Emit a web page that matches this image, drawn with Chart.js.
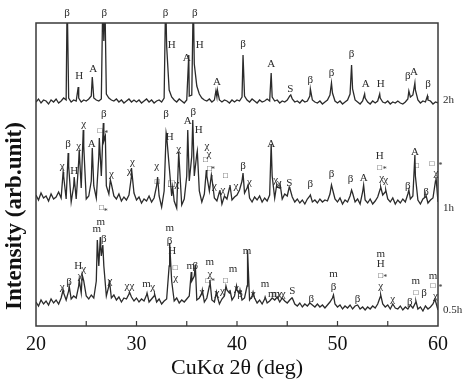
<!DOCTYPE html>
<html>
<head>
<meta charset="utf-8">
<script src="https://cdn.jsdelivr.net/npm/chart.js@4.4.1/dist/chart.umd.min.js"></script>
<style>
  html, body { margin: 0; padding: 0; background: #fff; }
  #wrap { width: 465px; height: 381px; }
</style>
</head>
<body>
<div id="wrap"><canvas id="xrd"></canvas></div>
<script>
// 2theta grid of the background scan: 20..60 deg, every 0.25 deg
var X_START = 20;
var X_STEP = 0.25;

// background intensity on that grid (arb. units), one row = 2 deg
var base2h = [
  224,227,223,226, 225,222,226,224,
  227,223,225,228, 226,228,224,226,
  225,228,224,226, 225,227,230,228,
  226,225,227,285, 232,228,226,225,
  227,224,226,223, 225,227,224,226,
  224,226,223,225, 227,224,226,223,
  225,226,224,228, 280,236,229,226,
  224,227,225,223, 226,230,231,262,
  240,232,228,226, 225,227,224,226,
  229,226,224,226, 225,223,226,224,
  226,225,229,230, 226,224,227,225,
  223,226,224,225, 227,225,229,225,
  226,223,225,224, 226,230,227,224,
  225,223,226,224, 225,230,226,224,
  223,225,222,224, 226,231,233,225,
  223,225,222,224, 226,232,237,226,
  224,222,225,228, 224,222,225,223,
  225,228,224,223, 225,222,224,223,
  225,223,222,224, 227,229,231,236,
  226,223,225,224, 226,225,222,224,
  223
];
var base1h = [
  131,126,133,128, 130,125,132,127,
  129,134,128,150, 127,160,124,140,
  127,165,138,180, 127,130,145,140,
  128,170,150,185, 140,132,142,130,
  127,132,125,129, 126,131,150,133,
  126,129,123,127, 125,130,124,128,
  140,130,119,135, 190,160,130,125,
  118,165,121,127, 150,145,170,150,
  172,135,124,132, 150,135,148,128,
  125,134,122,130, 127,138,126,129,
  131,136,145,133, 138,128,124,129,
  126,130,124,128, 125,131,150,128,
  139,138,127,132, 130,138,129,124,
  127,123,126,122, 127,130,124,126,
  123,127,124,126, 125,132,137,127,
  124,128,122,126, 124,130,133,124,
  127,122,134,126, 123,127,122,125,
  129,137,131,134, 127,124,128,122,
  126,123,127,124, 132,127,130,150,
  126,122,127,129, 123,126,128,145,
  124
];
var base05h = [
  24,20,26,22, 25,21,27,23,
  26,22,28,33, 26,35,27,30,
  28,40,33,45, 30,27,31,28,
  45,60,70,60, 30,40,28,31,
  26,29,24,28, 27,32,29,25,
  28,24,27,25, 31,24,27,30,
  24,27,22,25, 27,60,45,25,
  28,23,26,24, 27,30,45,50,
  26,28,33,24, 28,40,26,24,
  31,22,27,30, 36,33,26,30,
  36,33,26,28, 40,26,30,28,
  23,26,22,27, 23,25,28,26,
  29,24,28,25, 23,26,28,22,
  20,23,19,22, 20,23,21,19,
  22,19,21,18, 21,24,28,22,
  19,21,17,20, 18,21,17,20,
  21,17,19,16, 19,17,20,18,
  22,29,22,19, 21,17,22,18,
  17,20,16,19, 17,21,18,23,
  17,19,15,20, 17,19,22,25,
  16
];

// reflection maxima [2theta, intensity]
var peaks2h = [
  [23.1,330],[24.2,239],[25.6,249],[26.65,330],[26.85,330],[32.9,330],
  [35.2,271],[35.65,330],[37.9,235],[38.05,236],[40.6,271],[43.4,253],
  [45.35,231],[47.3,237],[49.4,243],[51.4,261],[52.7,232],[54.2,232],
  [57.1,235],[57.7,243],[58.95,230]
];
var peaks1h = [
  [22.7,154],[23.2,173],[23.8,149],[24.3,176],[24.7,196],[25.6,178],
  [26.3,188],[26.7,203],[26.9,190],[27.4,146],[29.5,158],[32.1,149],
  [32.95,193],[33.6,139],[34.2,174],[35.1,196],[35.6,206],[36.05,175],
  [36.95,156],[37.45,151],[38.3,136],[39.3,141],[40.6,153],[41.1,141],
  [43.4,182],[43.95,141],[44.3,141],[45.2,139],[47.3,131],[49.4,141],
  [51.4,136],[52.6,141],[54.3,139],[54.8,136],[57.1,136],[57.7,171],
  [58.8,131],[59.8,149]
];
var peaks05h = [
  [22.7,36],[23.3,40],[24.3,46],[24.6,51],[26.1,86],[26.4,89],[26.65,81],
  [27.3,46],[29.3,34],[31.05,33],[31.8,32],[33.3,83],[35.45,54],[35.85,61],
  [36.55,36],[37.3,46],[37.95,34],[38.9,40],[39.3,36],[39.95,40],[40.3,36],
  [41.05,76],[41.6,34],[42.8,29],[45.45,28],[49.6,31],[54.3,31],[57.8,25],
  [59.7,27]
];

// phase marks [text, 2theta, intensity]
var marks2h = [
  ['β',23.1,313],['β',26.8,313],['β',32.9,313],['β',35.8,313],
  ['H',24.3,250],['A',25.7,257],['H',33.5,281],['A',35.0,268],['H',36.3,281],
  ['A',38.0,244],['β',40.6,282],['A',43.4,262],['S',45.3,237],['β',47.3,246],
  ['β',49.4,253],['β',51.4,272],['A',52.8,242],['H',54.3,242],['β',57.0,250],
  ['A',57.6,254],['β',59.0,242]
];
var marks1h = [
  ['χ',22.6,160],['β',23.2,182],['H',23.8,155],['χ',24.25,180],['χ',24.75,202],
  ['A',25.55,182],['□',26.35,195],['β',26.75,212],['*',27.0,192],['χ',27.5,152],
  ['χ',29.3,155],['χ',29.6,164],['χ',32.0,160],['□',32.05,144],['β',32.95,212],
  ['H',33.3,189],['□χ',33.7,142],['χ',34.2,177],['A',35.1,205],['β',35.65,214],
  ['H',36.2,196],['□',36.85,166],['χ',37.0,180],['χ',37.2,172],['□',37.25,157],
  ['*',37.6,156],['χ',37.75,140],['χ',38.6,136],['□',38.85,150],['χ',39.9,140],
  ['β',40.6,160],['χ',41.25,144],['A',43.4,182],['χ',43.85,146],['χ',44.2,143],
  ['S',45.2,143],['β',47.3,142],['β',49.4,152],['β',51.3,147],['A',52.6,148],
  ['H',54.2,170],['□',54.2,158],['*',54.7,156],['χ',54.4,148],['χ',54.8,146],
  ['β',57.0,140],['A',57.7,174],['□',57.85,160],['β',58.8,134],['□',59.4,162],
  ['χ',59.8,153],['*',60.25,160]
];
var marks05h = [
  ['χ',22.6,39],['β',23.3,44],['H',24.2,60],['χ',24.4,50],['χ',24.75,57],
  ['m',26.05,97],['m',26.45,104],['□',26.5,118],['*',26.95,114],['β',26.75,87],
  ['χ',27.35,45],['χχ',29.3,40],['m',31.0,42],['χ',31.6,39],['m',33.3,98],
  ['β',33.3,85],['H',33.55,75],['□',33.85,58],['χ',33.9,48],['m',35.4,60],
  ['β',35.85,60],['χ',36.5,34],['□',37.1,45],['m',37.3,64],['χ',37.3,52],
  ['*',37.6,44],['χ',38.0,33],['χ',38.55,35],['□',38.85,45],['m',39.6,57],
  ['χ',39.95,38],['β',40.3,32],['m',41.0,75],['χ',41.6,32],['m',42.8,42],
  ['m',43.5,32],['m',43.85,32],['χ',44.25,32],['χ',44.6,32],['S',45.5,35],
  ['β',47.4,27],['m',49.6,52],['β',49.6,39],['β',52.0,27],['m',54.3,72],
  ['H',54.3,62],['□',54.3,50],['*',54.75,48],['χ',54.3,40],['χ',55.5,27],
  ['β',57.2,24],['m',57.8,45],['□',57.8,33],['β',58.6,33],['m',59.5,50],
  ['□',59.5,40],['χ',59.75,30],['*',60.25,38]
];

// milling time labels [text, intensity of baseline]
var timeLabels = [['2h',226],['1h',118],['0.5h',16]];

function buildSeries(base, peaks) {
  var pts = [];
  base.forEach(function(v, i) {
    pts.push({ x: X_START + i * X_STEP, y: v });
  });
  peaks.forEach(function(p) {
    pts.push({ x: p[0], y: p[1] });
  });
  pts.sort(function(a, b) { return a.x - b.x; });
  return pts;
}

var SERIF = '"Liberation Serif", "DejaVu Serif", serif';
var INK = '#2b2b2b';

var xrdDecor = {
  id: 'xrdDecor',
  afterDatasetsDraw: function(chart) {
    var ctx = chart.ctx;
    var a = chart.chartArea;
    var xs = chart.scales.x;
    var ys = chart.scales.y;
    ctx.save();

    // frame
    ctx.strokeStyle = '#3a3a3a';
    ctx.lineWidth = 1.5;
    ctx.strokeRect(a.left, a.top, a.right - a.left, a.bottom - a.top);

    // inward ticks every 5 deg
    ctx.lineWidth = 1.2;
    for (var t = 25; t < 60; t += 5) {
      var px = xs.getPixelForValue(t);
      ctx.beginPath();
      ctx.moveTo(px, a.bottom);
      ctx.lineTo(px, a.bottom - 5);
      ctx.stroke();
    }

    // phase marks
    ctx.fillStyle = INK;
    ctx.textAlign = 'center';
    ctx.textBaseline = 'middle';
    [marks2h, marks1h, marks05h].forEach(function(list) {
      list.forEach(function(m) {
        var small = (m[0] === '□' || m[0] === '*');
        ctx.font = (small ? '8px ' : '11px ') + SERIF;
        ctx.fillText(m[0], xs.getPixelForValue(m[1]), ys.getPixelForValue(m[2]));
      });
    });

    // milling times at right
    ctx.font = '11px ' + SERIF;
    ctx.textAlign = 'left';
    timeLabels.forEach(function(l) {
      ctx.fillText(l[0], a.right + 5, ys.getPixelForValue(l[1]));
    });

    // y title
    ctx.font = 'bold 23px ' + SERIF;
    ctx.fillStyle = '#111';
    ctx.translate(15, 216);
    ctx.rotate(-Math.PI / 2);
    ctx.textAlign = 'center';
    ctx.textBaseline = 'middle';
    ctx.fillText('Intensity (arb.unit)', 0, 0);

    ctx.restore();
  }
};

var lineStyle = {
  borderColor: INK,
  borderWidth: 1.3,
  pointRadius: 0,
  tension: 0,
  fill: false
};

new Chart(document.getElementById('xrd').getContext('2d'), {
  type: 'line',
  data: {
    datasets: [
      Object.assign({ label: '2h', data: buildSeries(base2h, peaks2h) }, lineStyle),
      Object.assign({ label: '1h', data: buildSeries(base1h, peaks1h) }, lineStyle),
      Object.assign({ label: '0.5h', data: buildSeries(base05h, peaks05h) }, lineStyle)
    ]
  },
  options: {
    responsive: true,
    maintainAspectRatio: false,
    animation: false,
    layout: { padding: { left: 36, top: 23, right: 27, bottom: 0 } },
    plugins: { legend: { display: false }, tooltip: { enabled: false } },
    scales: {
      x: {
        type: 'linear',
        min: 20,
        max: 60,
        grid: { display: false, drawTicks: false },
        border: { display: false },
        ticks: {
          stepSize: 10,
          padding: 7,
          color: '#111',
          font: { family: SERIF, size: 20 }
        },
        title: {
          display: true,
          text: 'CuKα 2θ (deg)',
          color: '#111',
          padding: { top: 4, bottom: 0 },
          font: { family: SERIF, size: 22 }
        },
        afterFit: function(s) { s.height = 55; }
      },
      y: {
        display: false,
        min: 0,
        max: 303
      }
    }
  },
  plugins: [xrdDecor]
});
</script>
</body>
</html>
